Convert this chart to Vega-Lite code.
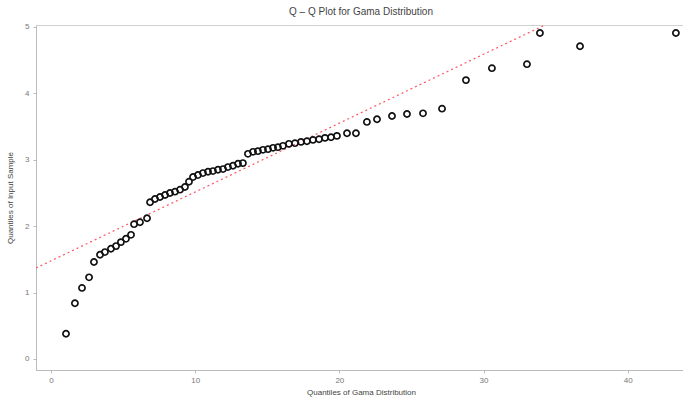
{
  "$schema": "https://vega.github.io/schema/vega-lite/v6.json",
  "autosize": "none",
  "width": 650,
  "height": 345,
  "padding": {"left": 36, "top": 25, "right": 0, "bottom": 34},
  "background": "white",
  "config": {"view": {"stroke": "#d0d0d0", "strokeWidth": 1}, "font": "Liberation Sans"},
  "title": {"text": "Q – Q Plot for Gama Distribution", "fontSize": 10, "fontWeight": "normal", "color": "#444", "offset": 6, "anchor": "middle"},
  "datasets": {
    "pts": [
      {"x": 1.04, "y": 0.38}, {"x": 1.66, "y": 0.84}, {"x": 2.15, "y": 1.07}, {"x": 2.64, "y": 1.23},
      {"x": 2.98, "y": 1.46}, {"x": 3.40, "y": 1.57}, {"x": 3.74, "y": 1.61}, {"x": 4.16, "y": 1.66},
      {"x": 4.51, "y": 1.70}, {"x": 4.85, "y": 1.76}, {"x": 5.20, "y": 1.81}, {"x": 5.55, "y": 1.87},
      {"x": 5.76, "y": 2.03}, {"x": 6.17, "y": 2.06}, {"x": 6.66, "y": 2.12}, {"x": 6.87, "y": 2.36},
      {"x": 7.21, "y": 2.41}, {"x": 7.56, "y": 2.44}, {"x": 7.91, "y": 2.47}, {"x": 8.25, "y": 2.50},
      {"x": 8.60, "y": 2.52}, {"x": 8.95, "y": 2.55}, {"x": 9.29, "y": 2.59}, {"x": 9.57, "y": 2.67},
      {"x": 9.85, "y": 2.74}, {"x": 10.19, "y": 2.77}, {"x": 10.54, "y": 2.80}, {"x": 10.89, "y": 2.82},
      {"x": 11.23, "y": 2.83}, {"x": 11.58, "y": 2.85}, {"x": 11.93, "y": 2.86}, {"x": 12.27, "y": 2.89},
      {"x": 12.62, "y": 2.91}, {"x": 12.97, "y": 2.94}, {"x": 13.31, "y": 2.95}, {"x": 13.66, "y": 3.09},
      {"x": 14.01, "y": 3.12}, {"x": 14.35, "y": 3.13}, {"x": 14.70, "y": 3.15}, {"x": 15.05, "y": 3.16},
      {"x": 15.40, "y": 3.18}, {"x": 15.74, "y": 3.19}, {"x": 16.09, "y": 3.21}, {"x": 16.50, "y": 3.24},
      {"x": 16.92, "y": 3.25}, {"x": 17.34, "y": 3.27}, {"x": 17.75, "y": 3.28}, {"x": 18.17, "y": 3.30},
      {"x": 18.59, "y": 3.31}, {"x": 19.00, "y": 3.33}, {"x": 19.42, "y": 3.34}, {"x": 19.83, "y": 3.36},
      {"x": 20.53, "y": 3.40}, {"x": 21.15, "y": 3.40}, {"x": 21.91, "y": 3.57}, {"x": 22.61, "y": 3.61},
      {"x": 23.65, "y": 3.66}, {"x": 24.69, "y": 3.69}, {"x": 25.80, "y": 3.70}, {"x": 27.12, "y": 3.77},
      {"x": 28.78, "y": 4.20}, {"x": 30.58, "y": 4.38}, {"x": 33.01, "y": 4.44}, {"x": 33.91, "y": 4.91},
      {"x": 36.69, "y": 4.71}, {"x": 43.34, "y": 4.91}
    ],
    "ref": [
      {"x": -1.04, "y": 1.37},
      {"x": 34.25, "y": 5.03}
    ]
  },
  "layer": [
    {
      "data": {"name": "ref"},
      "mark": {"type": "line", "stroke": "#ff5566", "color": "#ff5566", "strokeWidth": 1.2, "strokeDash": [2, 3], "clip": true},
      "encoding": {
        "x": {"field": "x", "type": "quantitative"},
        "y": {"field": "y", "type": "quantitative"}
      }
    },
    {
      "data": {"name": "pts"},
      "mark": {"type": "point", "shape": "circle", "filled": false, "color": "#111", "strokeWidth": 1.7, "size": 38, "opacity": 1},
      "encoding": {
        "x": {
          "field": "x", "type": "quantitative",
          "scale": {"domain": [-1.04, 44.04], "nice": false, "zero": false},
          "axis": {"values": [0, 10, 20, 30, 40], "format": "d", "title": "Quantiles of Gama Distribution", "grid": false,
                   "domainColor": "#bbb", "tickColor": "#bbb", "tickSize": 3, "labelColor": "#777", "labelFontSize": 8,
                   "titleColor": "#444", "titleFontSize": 8, "titleFontWeight": "normal", "titlePadding": 4, "labelPadding": 3}
        },
        "y": {
          "field": "y", "type": "quantitative",
          "scale": {"domain": [-0.166, 5.03], "nice": false, "zero": false},
          "axis": {"values": [0, 1, 2, 3, 4, 5], "format": "d", "title": "Quantiles of Input Sample", "grid": false,
                   "domainColor": "#bbb", "tickColor": "#bbb", "tickSize": 3, "labelColor": "#777", "labelFontSize": 8,
                   "titleColor": "#444", "titleFontSize": 8, "titleFontWeight": "normal", "titlePadding": 10, "labelPadding": 4}
        }
      }
    }
  ]
}
